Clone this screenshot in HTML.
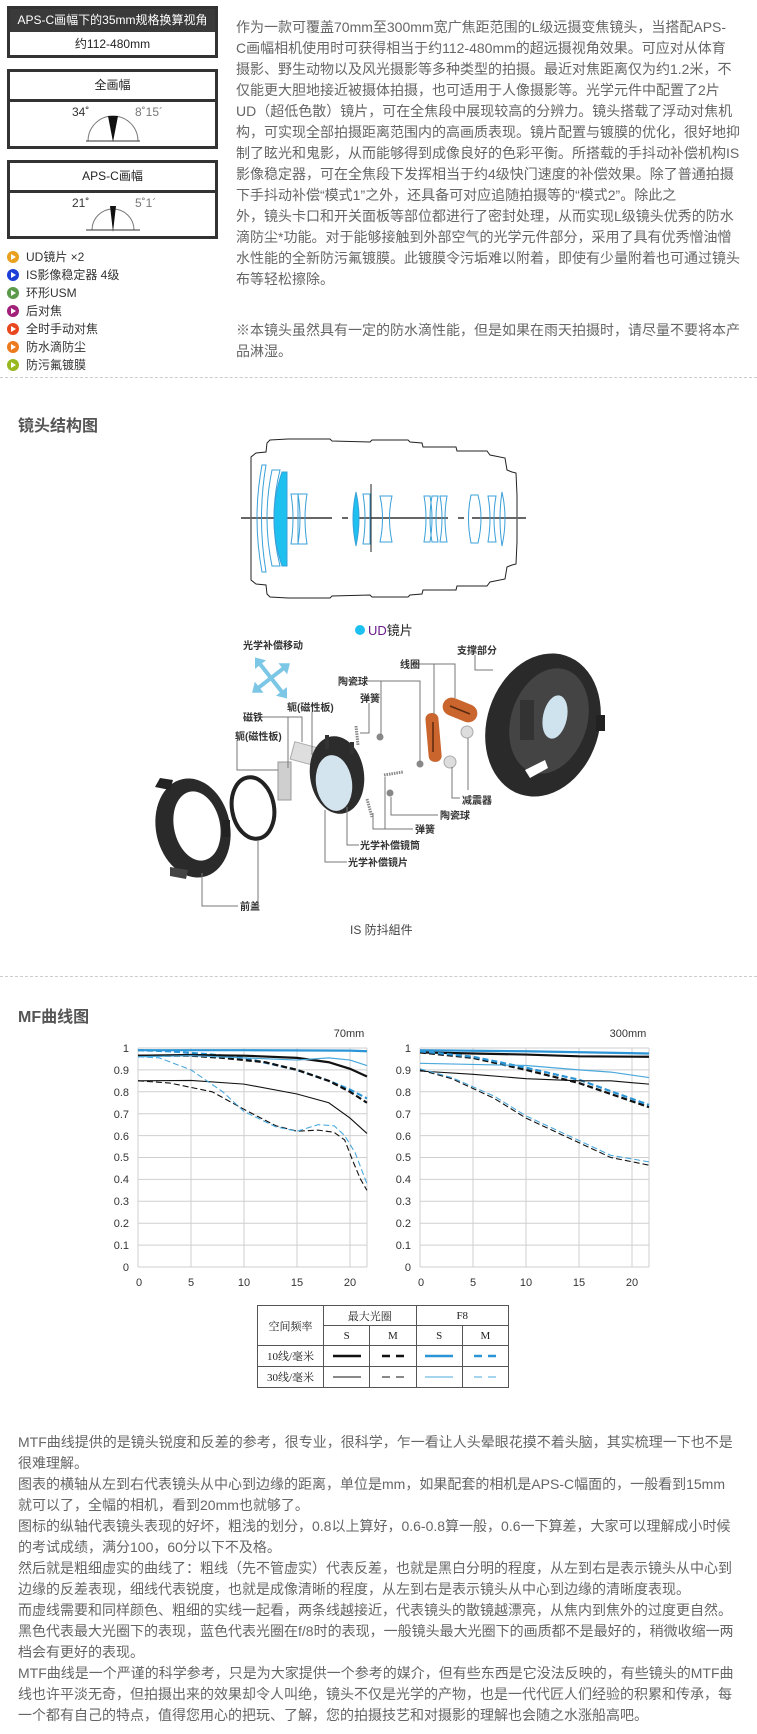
<!DOCTYPE html>
<html><head><meta charset="utf-8">
<style>
*{margin:0;padding:0;box-sizing:border-box}
body{width:757px;height:1734px;position:relative;background:#fff;font-family:"Liberation Sans","Noto Sans CJK SC",sans-serif;overflow:hidden}
.a{position:absolute}
.txt{font-size:14px;line-height:21px;color:#666;white-space:nowrap}
.box{position:absolute;left:7px;width:211px;border:3px solid #333;background:#fff}
.hd{text-align:center;font-size:12px;color:#222;border-bottom:3px solid #333}
.leg{position:absolute;left:7px;font-size:12px;color:#333;line-height:18px;white-space:nowrap}
.dot{display:inline-block;width:12px;height:12px;border-radius:50%;vertical-align:-2px;margin-right:7px;position:relative}
.dot:after{content:"";position:absolute;left:4px;top:3px;border-left:5px solid #fff;border-top:3px solid transparent;border-bottom:3px solid transparent}
.sep{position:absolute;left:0;width:757px;border-top:1px dashed #ccc}
.ttl{position:absolute;left:18px;font-size:16px;font-weight:bold;color:#555}
table{border-collapse:collapse;font-family:"Liberation Serif","Noto Serif CJK SC",serif;font-size:11px;color:#222}
td{border:1px solid #555;text-align:center;padding:0}
</style></head><body>

<div class="box" style="top:6px;height:52px">
 <div style="background:#3a3a3a;color:#fff;font-size:12px;text-align:center;height:23px;line-height:23px">APS-C画幅下的35mm规格换算视角</div>
 <div style="text-align:center;font-size:12px;color:#222;line-height:24px">约112-480mm</div>
</div>
<div class="box" style="top:69px;height:80px">
 <div class="hd" style="height:30px;line-height:27px">全画幅</div>
</div>
<div class="box" style="top:160px;height:79px">
 <div class="hd" style="height:30px;line-height:27px">APS-C画幅</div>
</div>
<svg class="a" style="left:0;top:0" width="230" height="250">
 <g font-family="Liberation Sans, sans-serif" font-size="12" fill="#333">
  <text x="72" y="116">34˚</text><text x="135" y="116" fill="#777">8˚15´</text>
  <text x="72" y="207">21˚</text><text x="135" y="207" fill="#777">5˚1´</text>
 </g>
 <path d="M88 141 A25 25 0 0 1 138 141" fill="none" stroke="#777"/><line x1="86" y1="141" x2="140" y2="141" stroke="#333"/>
 <path d="M108 116 L118 116 L113 142 Z" fill="#111"/>
 <path d="M92 230 A21 21 0 0 1 134 230" fill="none" stroke="#777"/><line x1="86" y1="230" x2="140" y2="230" stroke="#333"/>
 <path d="M110 206 L116 206 L113 232 Z" fill="#111"/>
</svg>

<div class="leg" style="top:248px"><span class="dot" style="background:#e8a01e"></span>UD镜片 ×2</div>
<div class="leg" style="top:266px"><span class="dot" style="background:#1d3fd8"></span>IS影像稳定器 4级</div>
<div class="leg" style="top:284px"><span class="dot" style="background:#5a9a4a"></span>环形USM</div>
<div class="leg" style="top:302px"><span class="dot" style="background:#a0207a"></span>后对焦</div>
<div class="leg" style="top:320px"><span class="dot" style="background:#e8461e"></span>全时手动对焦</div>
<div class="leg" style="top:338px"><span class="dot" style="background:#ec7a1e"></span>防水滴防尘</div>
<div class="leg" style="top:356px"><span class="dot" style="background:#98b820"></span>防污氟镀膜</div>

<div class="a txt" style="left:236px;top:17px">作为一款可覆盖70mm至300mm宽广焦距范围的L级远摄变焦镜头，当搭配APS-<br>C画幅相机使用时可获得相当于约112-480mm的超远摄视角效果。可应对从体育<br>摄影、野生动物以及风光摄影等多种类型的拍摄。最近对焦距离仅为约1.2米，不<br>仅能更大胆地接近被摄体拍摄，也可适用于人像摄影等。光学元件中配置了2片<br>UD（超低色散）镜片，可在全焦段中展现较高的分辨力。镜头搭载了浮动对焦机<br>构，可实现全部拍摄距离范围内的高画质表现。镜片配置与镀膜的优化，很好地抑<br>制了眩光和鬼影，从而能够得到成像良好的色彩平衡。所搭载的手抖动补偿机构IS<br>影像稳定器，可在全焦段下发挥相当于约4级快门速度的补偿效果。除了普通拍摄<br>下手抖动补偿“模式1”之外，还具备可对应追随拍摄等的“模式2”。除此之<br>外，镜头卡口和开关面板等部位都进行了密封处理，从而实现L级镜头优秀的防水<br>滴防尘*功能。对于能够接触到外部空气的光学元件部分，采用了具有优秀憎油憎<br>水性能的全新防污氟镀膜。此镀膜令污垢难以附着，即使有少量附着也可通过镜头<br>布等轻松擦除。</div>
<div class="a txt" style="left:236px;top:320px">※本镜头虽然具有一定的防水滴性能，但是如果在雨天拍摄时，请尽量不要将本产<br>品淋湿。</div>

<div class="sep" style="top:377px"></div>
<div class="ttl" style="top:412px">镜头结构图</div>

<svg class="a" style="left:0;top:0" width="757" height="1000">
 <g fill="none" stroke="#222" stroke-width="1">
  <path id="lo" d="M251 518 L251 457 L256 453 L266 452 L267 443 L270 440 L288 439 L330 439 L332 441 L370 442 L372 440 L408 440 L410 442 L422 443 L423 447 L456 447 L457 451 L487 451 L490 455 L505 458 L507 470 L512 472 L516 473 L517 495 L517 518"/>
  <use href="#lo" transform="translate(0,1037) scale(1,-1)"/>
 </g>
 <line x1="241" y1="518" x2="332" y2="518" stroke="#666" stroke-width="2"/>
 <line x1="342" y1="518" x2="348" y2="518" stroke="#666" stroke-width="2"/>
 <line x1="357" y1="518" x2="448" y2="518" stroke="#666" stroke-width="2"/>
 <line x1="458" y1="518" x2="464" y2="518" stroke="#666" stroke-width="2"/>
 <line x1="472" y1="518" x2="526" y2="518" stroke="#666" stroke-width="2"/>
 <g fill="none" stroke="#3aa0d8" stroke-width="1">
  <path d="M262 465 Q252 518 262 572 L266 572 Q257 518 266 465 Z"/>
  <path d="M272 470 L280 470 Q268 518 280 566 L272 566 Q262 518 272 470Z"/>
  <path d="M291 494 L298 494 Q302 518 298 544 L291 544 Q295 518 291 494Z"/>
  <path d="M298 494 L307 494 Q303 518 307 544 L298 544Z"/>
  <path d="M363 494 L370 494 L370 544 L363 544 Q367 518 363 494Z"/>
  <path d="M380 496 L392 496 Q387 518 392 542 L380 542 Q385 518 380 496Z"/>
  <path d="M424 496 L430 496 Q434 518 430 542 L424 542 Q428 518 424 496Z"/>
  <path d="M432 496 L438 496 Q434 518 438 542 L432 542 Q428 518 432 496Z"/>
  <path d="M440 496 L447 496 Q443 518 447 542 L440 542 Q444 518 440 496Z"/>
  <path d="M471 495 L478 495 Q484 518 478 543 L471 543 Q466 518 471 495Z"/>
  <path d="M488 496 L496 496 Q492 518 496 542 L488 542 Q492 518 488 496Z"/>
  <path d="M502 492 Q508 518 502 546 Q498 518 502 492Z"/>
 </g>
 <path d="M282 472 L287 472 L287 566 L282 566 Q266 518 282 472Z" fill="#1ec0f0" stroke="#3aa0d8"/>
 <path d="M356 492 Q362 518 356 546 Q350 518 356 492Z" fill="#1ec0f0" stroke="#3aa0d8"/>
 <line x1="371" y1="484" x2="371" y2="552" stroke="#222"/>
 <circle cx="360" cy="630" r="5" fill="#1ec0f0"/>
 <text x="368" y="635" font-size="13" fill="#6a1b8a" font-family="Liberation Sans, Noto Sans CJK SC, sans-serif">UD<tspan fill="#222">镜片</tspan></text>

 <g fill="#7cc6e6">
  <path d="M271 652 L278 661 L273 661 L273 695 L278 695 L271 704 L264 695 L269 695 L269 661 L264 661Z" transform="rotate(-38 271 678)"/>
  <path d="M247 678 L256 671 L256 676 L286 676 L286 671 L295 678 L286 685 L286 680 L256 680 L256 685Z" transform="rotate(-38 271 678)"/>
 </g>
 <!-- support ring -->
 <ellipse cx="543" cy="725" rx="56" ry="73" fill="#2a2a2a" transform="rotate(18 543 725)"/>
 <ellipse cx="549" cy="721" rx="38" ry="54" fill="#444" transform="rotate(18 549 721)"/>
 <rect x="520" y="700" width="14" height="40" fill="#333"/>
 <ellipse cx="555" cy="717" rx="12" ry="22" fill="#cfe3ef" transform="rotate(12 555 717)"/>
 <rect x="596" y="715" width="9" height="16" fill="#222"/>
 <path d="M525 770 L545 760 L548 768 L530 778Z" fill="#fff"/>
 <!-- front cover -->
 <ellipse cx="193" cy="828" rx="37" ry="50" fill="#2a2a2a" transform="rotate(-12 193 828)"/>
 <ellipse cx="197" cy="826" rx="23" ry="35" fill="#fff" transform="rotate(-12 197 826)"/>
 <path d="M155 787 L160 778 L173 780 L170 790Z" fill="#222"/>
 <path d="M170 867 L188 870 L186 879 L170 876Z" fill="#444"/>
 <rect x="222" y="820" width="8" height="17" fill="#222"/>
 <ellipse cx="253" cy="808" rx="21" ry="31" fill="none" stroke="#222" stroke-width="4" transform="rotate(-10 253 808)"/>
 <!-- yokes -->
 <rect x="278" y="762" width="13" height="38" fill="#cfcfcf" stroke="#999"/>
 <rect x="292" y="745" width="28" height="18" fill="#dedede" stroke="#aaa" transform="rotate(15 306 754)"/>
 <!-- lens unit -->
 <ellipse cx="337" cy="775" rx="27" ry="39" fill="#2c2c2c" transform="rotate(-8 337 775)"/>
 <ellipse cx="334" cy="783" rx="18" ry="28" fill="#d4e4ee" transform="rotate(-8 334 783)"/>
 <rect x="325" y="735" width="4" height="14" fill="#333"/><rect x="350" y="742" width="4" height="12" fill="#333"/>
 <g stroke="#888" stroke-width="3" fill="none" stroke-dasharray="1.5,1">
  <line x1="356" y1="726" x2="358" y2="745"/><line x1="384" y1="775" x2="403" y2="772"/><line x1="367" y1="799" x2="372" y2="817"/>
 </g>
 <g fill="#888"><circle cx="380" cy="737" r="3.5"/><circle cx="420" cy="764" r="3.5"/><circle cx="390" cy="793" r="3.5"/></g>
 <rect x="427" y="713" width="13" height="49" rx="6" fill="#c9652d" transform="rotate(-5 433 737)"/>
 <line x1="433" y1="722" x2="433" y2="752" stroke="#5a2a10" stroke-width="1.5"/>
 <rect x="442" y="701" width="36" height="18" rx="9" fill="#c9652d" transform="rotate(22 460 710)"/>
 <line x1="450" y1="706" x2="470" y2="714" stroke="#5a2a10" stroke-width="1.5"/>
 <circle cx="467" cy="732" r="6" fill="#ddd" stroke="#aaa"/><circle cx="450" cy="762" r="6" fill="#ddd" stroke="#aaa"/>
 <g fill="none" stroke="#777" stroke-width="1">
  <path d="M475 655 V670 H493"/>
  <path d="M418 664 H455 V698 M434 664 V714"/>
  <path d="M367 681 H420 V762 M381 681 V735"/>
  <path d="M369 703 V733 H360"/>
  <path d="M312 712 V755"/>
  <path d="M262 717 H302 V742 M288 717 V768"/>
  <path d="M237 740 V770 H278"/>
  <path d="M468 738 V790 M452 767 V798 H460"/>
  <path d="M391 797 V815 H438"/>
  <path d="M373 813 V829 H413 M385 777 V829"/>
  <path d="M347 807 V845 H359"/>
  <path d="M325 810 V862 H347"/>
  <path d="M202 873 V906 H238 M258 840 V906"/>
 </g>
 <g font-size="10" font-weight="bold" fill="#333" font-family="Liberation Sans, Noto Sans CJK SC, sans-serif">
  <text x="243" y="649">光学补偿移动</text>
  <text x="457" y="654">支撑部分</text>
  <text x="400" y="668">线圈</text>
  <text x="338" y="685">陶瓷球</text>
  <text x="360" y="702">弹簧</text>
  <text x="287" y="711">轭(磁性板)</text>
  <text x="243" y="721">磁铁</text>
  <text x="235" y="740">轭(磁性板)</text>
  <text x="462" y="804">减震器</text>
  <text x="440" y="819">陶瓷球</text>
  <text x="415" y="833">弹簧</text>
  <text x="360" y="849">光学补偿镜筒</text>
  <text x="348" y="866">光学补偿镜片</text>
  <text x="240" y="910">前盖</text>
 </g>
 <text x="350" y="934" font-size="12" fill="#444" font-family="Liberation Sans, Noto Sans CJK SC, sans-serif">IS 防抖組件</text>
</svg>

<div class="sep" style="top:976px"></div>
<div class="ttl" style="top:1003px">MF曲线图</div>

<svg class="a" style="left:0;top:0" width="757" height="1400">
 <defs>
  <g id="grid" stroke="#cfcfcf" stroke-width="1" fill="none">
   <path d="M0 0H229 M0 -21.9H229 M0 -43.8H229 M0 -65.7H229 M0 -87.6H229 M0 -109.5H229 M0 -131.4H229 M0 -153.3H229 M0 -175.2H229 M0 -197.1H229 M0 -219H229"/>
   <path d="M0 0V-219 M53 0V-219 M106 0V-219 M159 0V-219 M212 0V-219 M229 0V-219"/>
  </g>
 </defs>
 <use href="#grid" transform="translate(138,1267)"/>
 <use href="#grid" transform="translate(420,1267)"/>
 <g font-size="11" fill="#333" font-family="Liberation Sans, sans-serif" text-anchor="end">
  <text x="129" y="1052">1</text><text x="129" y="1074">0.9</text><text x="129" y="1096">0.8</text><text x="129" y="1118">0.7</text><text x="129" y="1140">0.6</text><text x="129" y="1161">0.5</text><text x="129" y="1183">0.4</text><text x="129" y="1205">0.3</text><text x="129" y="1227">0.2</text><text x="129" y="1249">0.1</text><text x="129" y="1271">0</text>
  <text x="411" y="1052">1</text><text x="411" y="1074">0.9</text><text x="411" y="1096">0.8</text><text x="411" y="1118">0.7</text><text x="411" y="1140">0.6</text><text x="411" y="1161">0.5</text><text x="411" y="1183">0.4</text><text x="411" y="1205">0.3</text><text x="411" y="1227">0.2</text><text x="411" y="1249">0.1</text><text x="411" y="1271">0</text>
 </g>
 <g font-size="11" fill="#333" font-family="Liberation Sans, sans-serif" text-anchor="middle">
  <text x="139" y="1286">0</text><text x="191" y="1286">5</text><text x="244" y="1286">10</text><text x="297" y="1286">15</text><text x="350" y="1286">20</text>
  <text x="421" y="1286">0</text><text x="473" y="1286">5</text><text x="526" y="1286">10</text><text x="579" y="1286">15</text><text x="632" y="1286">20</text>
  <text x="349" y="1037">70mm</text><text x="628" y="1037">300mm</text>
 </g>
 <g transform="translate(138,1267) scale(10.6,-219)" fill="none">
  <polyline vector-effect="non-scaling-stroke" stroke="#2b95d6" stroke-width="2.2" points="0,0.99 10,0.99 20,0.988 21.6,0.985"/>
  <polyline vector-effect="non-scaling-stroke" stroke="#2b95d6" stroke-width="2.2" stroke-dasharray="6,3" points="0,0.99 3,0.985 7,0.97 10,0.955 15,0.9 18,0.85 20,0.81 21.6,0.77"/>
  <polyline vector-effect="non-scaling-stroke" stroke="#111" stroke-width="2.2" stroke-dasharray="6,3" points="0,0.965 5,0.965 8,0.955 12,0.935 15,0.9 18,0.85 20,0.8 21.6,0.75"/>
  <polyline vector-effect="non-scaling-stroke" stroke="#111" stroke-width="2.2" points="0,0.965 5,0.968 10,0.965 15,0.955 18,0.935 20,0.905 21.6,0.87"/>
  <polyline vector-effect="non-scaling-stroke" stroke="#4aa8dc" stroke-width="1.2" points="0,0.96 5,0.965 10,0.955 15,0.945 18,0.955 20,0.945 21.6,0.92"/>
  <polyline vector-effect="non-scaling-stroke" stroke="#111" stroke-width="1.1" points="0,0.85 5,0.852 10,0.835 15,0.79 18,0.75 20,0.68 21.6,0.61"/>
  <polyline vector-effect="non-scaling-stroke" stroke="#111" stroke-width="1.1" stroke-dasharray="6,3" points="0,0.85 3,0.84 7,0.8 10,0.72 13,0.645 15,0.62 17,0.625 18.5,0.615 19.5,0.58 20.3,0.48 21,0.4 21.6,0.35"/>
  <polyline vector-effect="non-scaling-stroke" stroke="#4aa8dc" stroke-width="1.1" stroke-dasharray="6,3" points="0,0.96 2,0.955 5,0.9 8,0.8 10,0.71 13,0.64 15,0.62 17,0.65 18.5,0.645 19.5,0.6 20.5,0.52 21.6,0.38"/>
 </g>
 <g transform="translate(420,1267) scale(10.6,-219)" fill="none">
  <polyline vector-effect="non-scaling-stroke" stroke="#2b95d6" stroke-width="2.2" points="0,0.99 10,0.985 21.6,0.975"/>
  <polyline vector-effect="non-scaling-stroke" stroke="#111" stroke-width="2.2" points="0,0.98 10,0.97 15,0.962 21.6,0.96"/>
  <polyline vector-effect="non-scaling-stroke" stroke="#111" stroke-width="2.2" stroke-dasharray="6,3" points="0,0.98 5,0.955 10,0.9 15,0.84 21.6,0.73"/>
  <polyline vector-effect="non-scaling-stroke" stroke="#2b95d6" stroke-width="2.2" stroke-dasharray="6,3" points="0,0.985 5,0.96 10,0.91 15,0.855 21.6,0.74"/>
  <polyline vector-effect="non-scaling-stroke" stroke="#4aa8dc" stroke-width="1.2" points="0,0.93 5,0.925 10,0.92 15,0.9 18,0.89 21.6,0.865"/>
  <polyline vector-effect="non-scaling-stroke" stroke="#111" stroke-width="1.1" points="0,0.895 5,0.88 10,0.86 15,0.85 18,0.85 21.6,0.835"/>
  <polyline vector-effect="non-scaling-stroke" stroke="#111" stroke-width="1.1" stroke-dasharray="6,3" points="0,0.9 3,0.86 7,0.77 10,0.68 14,0.59 18,0.5 21.6,0.465"/>
  <polyline vector-effect="non-scaling-stroke" stroke="#4aa8dc" stroke-width="1.1" stroke-dasharray="6,3" points="0,0.905 3,0.865 7,0.78 10,0.69 14,0.6 18,0.51 21.6,0.48"/>
 </g>
</svg>

<table class="a" style="left:257px;top:1305px;width:252px;height:83px">
 <tr style="height:20px"><td rowspan="2" style="width:66px">空间频率</td><td colspan="2">最大光圈</td><td colspan="2">F8</td></tr>
 <tr style="height:20px"><td>S</td><td>M</td><td>S</td><td>M</td></tr>
 <tr style="height:21px"><td>10线/毫米</td><td><svg width="36" height="6"><line x1="4" y1="3" x2="32" y2="3" stroke="#111" stroke-width="2.5"/></svg></td><td><svg width="36" height="6"><line x1="7" y1="3" x2="29" y2="3" stroke="#111" stroke-width="2.5" stroke-dasharray="8,6"/></svg></td><td><svg width="36" height="6"><line x1="4" y1="3" x2="32" y2="3" stroke="#2b95d6" stroke-width="2.5"/></svg></td><td><svg width="36" height="6"><line x1="7" y1="3" x2="29" y2="3" stroke="#2b95d6" stroke-width="2.5" stroke-dasharray="8,6"/></svg></td></tr>
 <tr style="height:21px"><td>30线/毫米</td><td><svg width="36" height="6"><line x1="4" y1="3" x2="32" y2="3" stroke="#111" stroke-width="1"/></svg></td><td><svg width="36" height="6"><line x1="7" y1="3" x2="29" y2="3" stroke="#111" stroke-width="1" stroke-dasharray="8,6"/></svg></td><td><svg width="36" height="6"><line x1="4" y1="3" x2="32" y2="3" stroke="#4aa8dc" stroke-width="1"/></svg></td><td><svg width="36" height="6"><line x1="7" y1="3" x2="29" y2="3" stroke="#4aa8dc" stroke-width="1" stroke-dasharray="8,6"/></svg></td></tr>
</table>

<div class="a txt" style="left:18px;top:1432px">MTF曲线提供的是镜头锐度和反差的参考，很专业，很科学，乍一看让人头晕眼花摸不着头脑，其实梳理一下也不是<br>很难理解。<br>图表的横轴从左到右代表镜头从中心到边缘的距离，单位是mm，如果配套的相机是APS-C幅面的，一般看到15mm<br>就可以了，全幅的相机，看到20mm也就够了。<br>图标的纵轴代表镜头表现的好坏，粗浅的划分，0.8以上算好，0.6-0.8算一般，0.6一下算差，大家可以理解成小时候<br>的考试成绩，满分100，60分以下不及格。<br>然后就是粗细虚实的曲线了：粗线（先不管虚实）代表反差，也就是黑白分明的程度，从左到右是表示镜头从中心到<br>边缘的反差表现，细线代表锐度，也就是成像清晰的程度，从左到右是表示镜头从中心到边缘的清晰度表现。<br>而虚线需要和同样颜色、粗细的实线一起看，两条线越接近，代表镜头的散镜越漂亮，从焦内到焦外的过度更自然。<br>黑色代表最大光圈下的表现，蓝色代表光圈在f/8时的表现，一般镜头最大光圈下的画质都不是最好的，稍微收缩一两<br>档会有更好的表现。<br>MTF曲线是一个严谨的科学参考，只是为大家提供一个参考的媒介，但有些东西是它没法反映的，有些镜头的MTF曲<br>线也许平淡无奇，但拍摄出来的效果却令人叫绝，镜头不仅是光学的产物，也是一代代匠人们经验的积累和传承，每<br>一个都有自己的特点，值得您用心的把玩、了解，您的拍摄技艺和对摄影的理解也会随之水涨船高吧。</div>
</body></html>
